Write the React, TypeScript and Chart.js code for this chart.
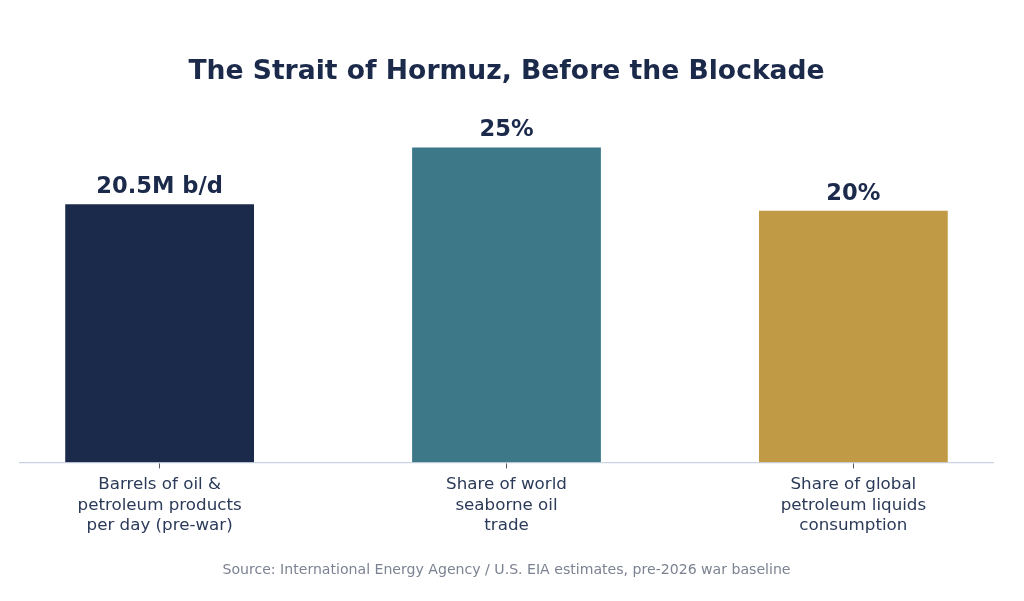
import { useEffect, useRef } from "react";
import Chart from "chart.js/auto";

const titleText = "The Strait of Hormuz, Before the Blockade";
const sourceText = "Source: International Energy Agency / U.S. EIA estimates, pre-2026 war baseline";
const categories: string[][] = [
  ["Barrels of oil &", "petroleum products", "per day (pre-war)"],
  ["Share of world", "seaborne oil", "trade"],
  ["Share of global", "petroleum liquids", "consumption"],
];
const values = [20.5, 25, 20];
const valueLabels = ["20.5M b/d", "25%", "20%"];
const barColors = ["#1b2a4a", "#3d7889", "#c19a45"];

const FONT = "'DejaVu Sans', sans-serif";
const NAVY = "#1b2a4a";

export default function App() {
  const ref = useRef<HTMLCanvasElement | null>(null);
  useEffect(() => {
    document.body.style.margin = "0";
    const canvas = ref.current;
    if (!canvas) return;
    const valueLabelPlugin = {
      id: "valueLabels",
      afterDatasetsDraw(chart: any) {
        const ctx = chart.ctx;
        const meta = chart.getDatasetMeta(0);
        ctx.save();
        ctx.font = `bold 22.6px ${FONT}`;
        ctx.fillStyle = NAVY;
        ctx.textAlign = "center";
        ctx.textBaseline = "alphabetic";
        meta.data.forEach((el: any, i: number) => {
          ctx.fillText(valueLabels[i], el.x, el.y - 10);
        });
        ctx.restore();
      },
    };
    const chart = new Chart(canvas, {
      type: "bar",
      data: {
        datasets: [
          {
            data: values.map((v, i) => ({ x: i, y: v })),
            backgroundColor: barColors,
            borderColor: "rgba(255,255,255,0.6)",
            borderWidth: 1,
            categoryPercentage: 1,
            barPercentage: 0.55,
          },
        ],
      },
      options: {
        animation: false,
        responsive: true,
        maintainAspectRatio: false,
        layout: { padding: { left: 20, right: 31, top: 0, bottom: 0 } },
        plugins: {
          legend: { display: false },
          tooltip: { enabled: false },
          title: {
            display: true,
            text: titleText,
            color: NAVY,
            font: { family: FONT, size: 26.6, weight: "bold" },
            padding: { top: 56, bottom: 8 },
          },
          subtitle: {
            display: true,
            position: "bottom",
            text: sourceText,
            color: "#7b8291",
            font: { family: FONT, size: 14.1 },
            padding: { top: 20, bottom: 22 },
          },
        },
        scales: {
          x: {
            type: "linear",
            offset: false,
            min: -0.4025,
            max: 2.4025,
            afterBuildTicks: (scale: any) => {
              scale.ticks = categories.map((_, i) => ({ value: i }));
            },
            grid: {
              display: true,
              offset: false,
              drawOnChartArea: false,
              drawTicks: true,
              tickLength: 6,
              tickWidth: 1,
              tickColor: "#555b66",
            },
            border: { display: true, color: "#c9d4e3", width: 1.3 },
            ticks: {
              autoSkip: false,
              maxRotation: 0,
              padding: 6,
              color: "#2b3a58",
              font: { family: FONT, size: 16.7, lineHeight: 1.23 },
              callback: (v: any) => categories[Math.round(Number(v))],
            },
          },
          y: {
            display: false,
            min: 0,
            max: 29,
          },
        },
      },
      plugins: [valueLabelPlugin],
    } as any);
    return () => chart.destroy();
  }, []);
  return (
    <div style={{ position: "absolute", left: 0, top: 0, width: 1024, height: 601 }}>
      <canvas ref={ref} />
    </div>
  );
}
